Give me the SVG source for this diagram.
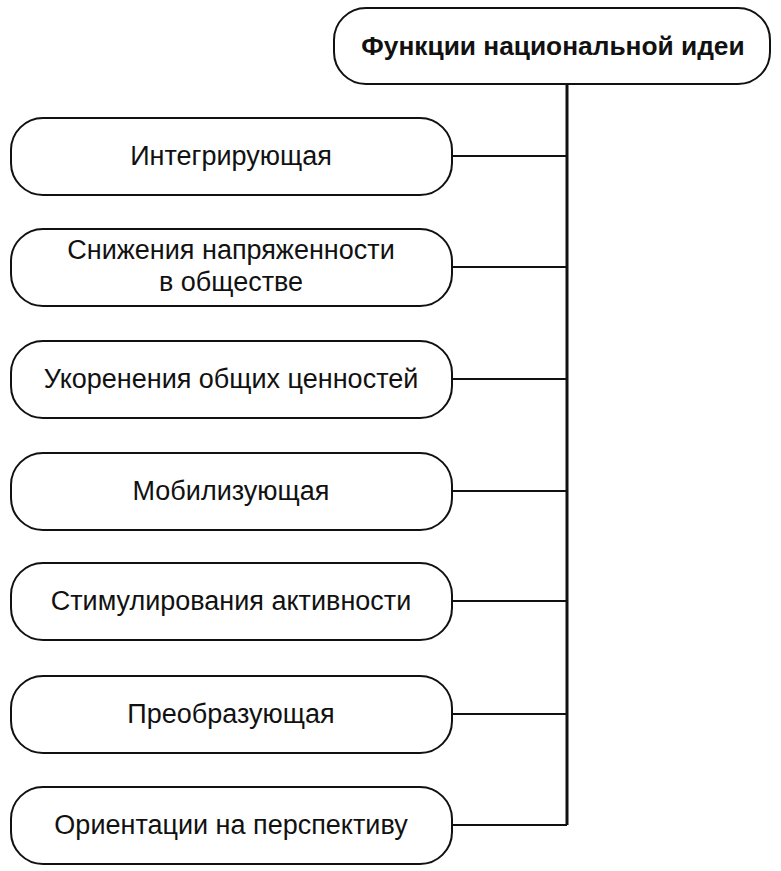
<svg xmlns="http://www.w3.org/2000/svg" width="781" height="871" viewBox="0 0 781 871">
<style>
.n{fill:#fff;stroke:#111;stroke-width:2}
.t{font-family:"Liberation Sans",Arial,sans-serif;font-size:27px;fill:#111;text-anchor:middle}
.b{font-weight:bold;font-size:26.3px}
.c{stroke:#111;fill:none}
</style>
<rect width="781" height="871" fill="#fff"/>
<g id="connectors">
<line class="c" x1="567" y1="84" x2="567" y2="825" stroke-width="3"/>
<g stroke-width="2">
<line class="c" x1="452" y1="156" x2="567" y2="156"/>
<line class="c" x1="452" y1="267" x2="567" y2="267"/>
<line class="c" x1="452" y1="379" x2="567" y2="379"/>
<line class="c" x1="452" y1="491" x2="567" y2="491"/>
<line class="c" x1="452" y1="601" x2="567" y2="601"/>
<line class="c" x1="452" y1="714" x2="567" y2="714"/>
<line class="c" x1="452" y1="825" x2="567" y2="825"/>
</g>
</g>
<g id="root"><rect class="n" x="334" y="8" width="436" height="76" rx="32"/><text class="t b" x="553" y="55">Функции национальной идеи</text></g>
<g id="n1"><rect class="n" x="11" y="118" width="441" height="77" rx="32"/><text class="t" x="231" y="165">Интегрирующая</text></g>
<g id="n2"><rect class="n" x="11" y="229" width="441" height="77" rx="32"/><text class="t" x="231" y="259">Снижения напряженности</text><text class="t" x="231" y="291">в обществе</text></g>
<g id="n3"><rect class="n" x="11" y="341" width="441" height="77" rx="32"/><text class="t" x="231" y="388">Укоренения общих ценностей</text></g>
<g id="n4"><rect class="n" x="11" y="453" width="441" height="77" rx="32"/><text class="t" x="231" y="500">Мобилизующая</text></g>
<g id="n5"><rect class="n" x="11" y="563" width="441" height="77" rx="32"/><text class="t" x="231" y="610">Стимулирования активности</text></g>
<g id="n6"><rect class="n" x="11" y="676" width="441" height="77" rx="32"/><text class="t" x="231" y="723">Преобразующая</text></g>
<g id="n7"><rect class="n" x="11" y="787" width="441" height="77" rx="32"/><text class="t" x="231" y="834">Ориентации на перспективу</text></g>
</svg>
